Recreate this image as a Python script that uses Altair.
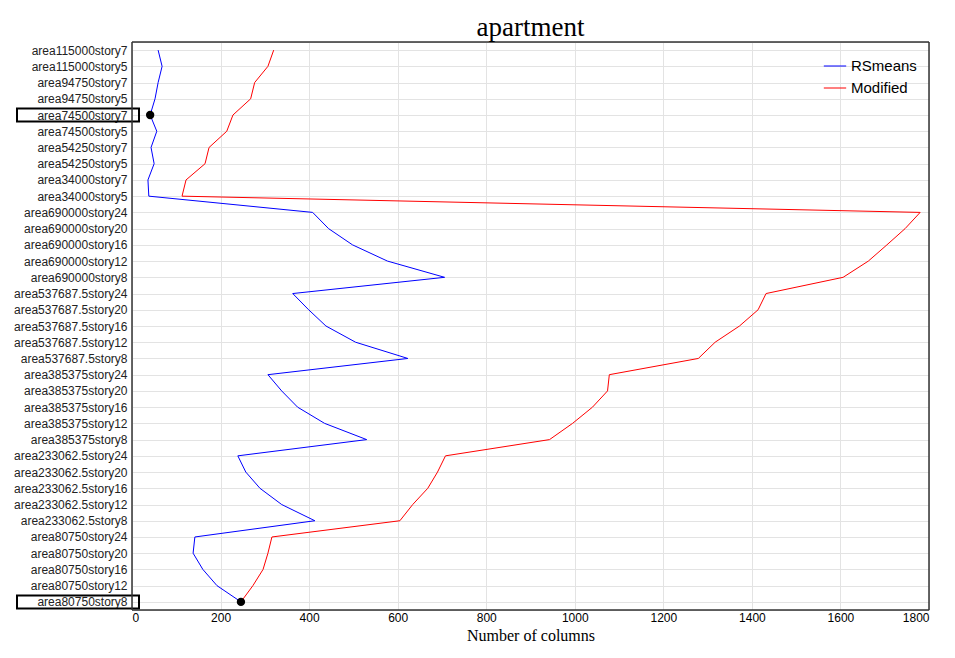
import altair as alt
import pandas as pd

categories = [
    "area80750story8", "area80750story12", "area80750story16", "area80750story20", "area80750story24",
    "area233062.5story8", "area233062.5story12", "area233062.5story16", "area233062.5story20", "area233062.5story24",
    "area385375story8", "area385375story12", "area385375story16", "area385375story20", "area385375story24",
    "area537687.5story8", "area537687.5story12", "area537687.5story16", "area537687.5story20", "area537687.5story24",
    "area690000story8", "area690000story12", "area690000story16", "area690000story20", "area690000story24",
    "area34000story5", "area34000story7", "area54250story5", "area54250story7",
    "area74500story5", "area74500story7", "area94750story5", "area94750story7",
    "area115000story5", "area115000story7",
]
rsmeans = [246, 192, 160, 138, 142, 413, 338, 289, 257, 239,
           530, 435, 374, 338, 307, 623, 505, 438, 399, 363,
           706, 577, 498, 444, 408, 38, 36, 50, 43, 56, 41, 52, 59, 68, 59]
modified = [246, 273, 296, 307, 316, 605, 634, 668, 690, 708,
            943, 995, 1040, 1074, 1078, 1279, 1317, 1372, 1414, 1432,
            1606, 1663, 1705, 1746, 1780, 113, 122, 165, 174, 214, 228, 268, 277, 307, 320]
highlight = ["area80750story8", "area74500story7"]
highlight_x = [246, 41]

rows = []
for i, c in enumerate(categories):
    rows.append({"cat": c, "value": rsmeans[i], "series": "RSmeans", "idx": i})
    rows.append({"cat": c, "value": modified[i], "series": "Modified", "idx": i})
df = pd.DataFrame(rows)
hl = pd.DataFrame({"cat": highlight, "value": highlight_x})

y_sort = categories[::-1]
y_enc = alt.Y("cat:N", sort=y_sort, title=None,
              scale=alt.Scale(padding=0.5),
              axis=alt.Axis(labelFontSize=12, labelFont="Liberation Sans", labelColor="#222",
                            grid=True, gridColor="#e3e3e3", ticks=False, domain=False, labelPadding=5))
x_scale = alt.Scale(domain=[0, 1800], nice=False)

lines = alt.Chart(df).mark_line(strokeWidth=1).encode(
    x=alt.X("value:Q", scale=x_scale, title="Number of columns",
            axis=alt.Axis(values=list(range(0, 1801, 200)), format="d", gridColor="#e3e3e3",
                          ticks=False, domain=False, labelFontSize=12, labelFont="Liberation Sans",
                          titleFont="Liberation Serif", titleFontSize=16, titleFontWeight="normal",
                          titlePadding=4)),
    y=y_enc,
    order="idx:Q",
    color=alt.Color("series:N", sort=["RSmeans", "Modified"],
                    scale=alt.Scale(domain=["RSmeans", "Modified"], range=["blue", "red"]),
                    legend=alt.Legend(title=None, orient="top-right", symbolType="stroke",
                                      symbolSize=500, labelFontSize=15, labelFont="Liberation Sans",
                                      symbolStrokeWidth=1, offset=12)),
)

dots = alt.Chart(hl).mark_circle(color="black", size=70, opacity=1).encode(
    x=alt.X("value:Q", scale=x_scale), y=alt.Y("cat:N", sort=y_sort))

box = alt.Chart(hl).mark_point(shape="M-61,-6.5H61V6.5H-61Z", filled=False, stroke="black",
                               strokeWidth=2, size=4, opacity=1).encode(
    x=alt.value(-54), y=alt.Y("cat:N", sort=y_sort))

frame = alt.Chart(hl).mark_rect(fill=None, stroke="#333", strokeWidth=1).encode(
    x=alt.value(0), x2=alt.value(797), y=alt.value(0), y2=alt.value(568))

chart = alt.layer(lines, dots, box, frame).properties(
    width=797, height=568,
    title=alt.TitleParams("apartment", font="Liberation Serif", fontSize=27, fontWeight="normal",
                          color="black", offset=0),
).configure_view(stroke=None).configure(background="white")

chart.save("out.html", embed_options={"renderer": "svg", "actions": False})
